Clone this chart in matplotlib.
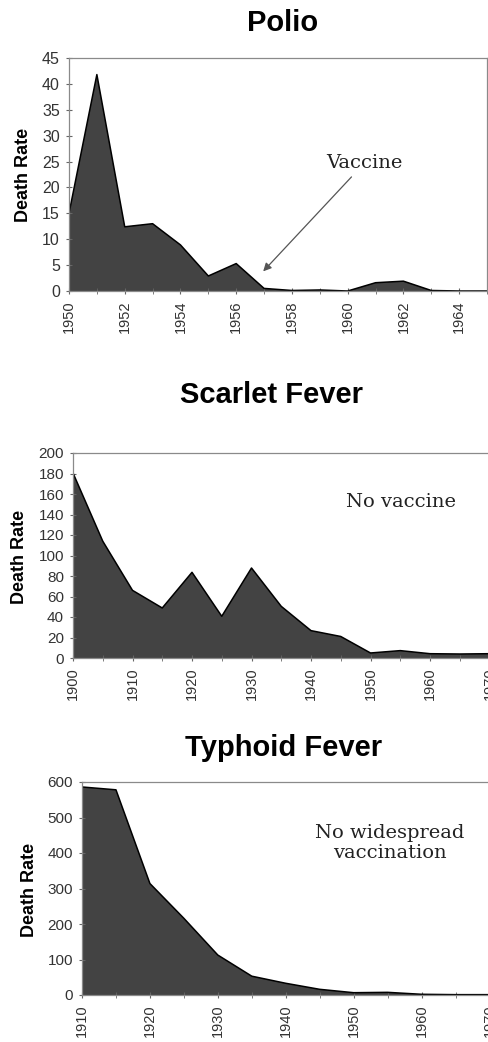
import matplotlib
matplotlib.use('Agg')
import matplotlib.pyplot as plt
from matplotlib.ticker import MultipleLocator

plt.rcParams['font.family'] = ['Liberation Sans', 'DejaVu Sans']

# data
polio_years = list(range(1950, 1966))
polio_rate = [15.0, 41.8, 12.4, 13.0, 8.9, 2.9, 5.3, 0.5, 0.1, 0.2, 0.0, 1.6, 1.9, 0.1, 0.0, 0.0]

scarlet_years = list(range(1900, 1971, 5))
scarlet_rate = [180.5, 114, 66, 48.8, 83.6, 40.7, 87.8, 50.4, 26.7, 21, 4.9, 7.2, 4.2, 3.9, 4.2]

typhoid_years = list(range(1910, 1971, 5))
typhoid_rate = [586, 578, 314, 216, 112.5, 53, 33, 16, 6.5, 7.5, 2, 1, 1]

FILL = '#434343'
W, H = 489, 1042


def px_axes(fig, left, top, right, bottom):
    return fig.add_axes([left / W, 1 - bottom / H, (right - left) / W, (bottom - top) / H])


def area_panel(ax, years, rate, xlim, ymax, ystep, xmaj, xmin, ysize=11):
    ax.fill_between(years, rate, 0, facecolor=FILL, edgecolor='none')
    ax.plot(years, rate, color='black', lw=1.1)
    ax.set_xlim(*xlim)
    ax.set_ylim(0, ymax)
    ax.yaxis.set_major_locator(MultipleLocator(ystep))
    ax.xaxis.set_major_locator(MultipleLocator(xmaj))
    ax.xaxis.set_minor_locator(MultipleLocator(xmin))
    for s in ax.spines.values():
        s.set_color('#8a8a8a')
        s.set_linewidth(0.9)
    ax.tick_params(axis='both', which='both', direction='inout', color='#666666',
                   labelcolor='#333333')
    ax.tick_params(axis='y', length=5, pad=4, labelsize=ysize)
    ax.tick_params(axis='x', which='both', length=5, pad=4, labelsize=10.5)
    for lab in ax.get_xticklabels():
        lab.set_rotation(90)
        lab.set_va('top')


fig = plt.figure(figsize=(W / 100, H / 100), dpi=100)

# Polio
ax1 = px_axes(fig, 69, 58, 487, 291)
area_panel(ax1, polio_years, polio_rate, (1950, 1965), 45, 5, 2, 1, ysize=11.5)
ax1.annotate('Vaccine', xy=(1956.9, 3.4), xytext=(1960.6, 24.7),
             ha='center', va='center', fontsize=14, family='DejaVu Serif', color='#222222',
             arrowprops=dict(arrowstyle='-|>', color='#555555', lw=0.9, mutation_scale=12))
fig.text(283 / W, 1 - 23 / H, 'Polio', ha='center', va='center', fontsize=21, fontweight='bold')
fig.text(24 / W, 1 - 175 / H, 'Death Rate', ha='center', va='center', rotation=90,
         fontsize=13, fontweight='bold')

# Scarlet Fever
ax2 = px_axes(fig, 73, 453, 489.5, 658)
area_panel(ax2, scarlet_years, scarlet_rate, (1900, 1970), 200, 20, 10, 5)
ax2.text(1955.1, 152, 'No vaccine', ha='center', va='center', fontsize=14,
         family='DejaVu Serif', color='#222222')
fig.text(272 / W, 1 - 395 / H, 'Scarlet Fever', ha='center', va='center', fontsize=21, fontweight='bold')
fig.text(20 / W, 1 - 557 / H, 'Death Rate', ha='center', va='center', rotation=90,
         fontsize=13, fontweight='bold')

# Typhoid Fever
ax3 = px_axes(fig, 82, 782, 489.5, 995)
area_panel(ax3, typhoid_years, typhoid_rate, (1910, 1970), 600, 100, 10, 5)
ax3.text(1955.3, 428, 'No widespread\nvaccination', ha='center', va='center', fontsize=14,
         family='DejaVu Serif', color='#222222', linespacing=1.15)
fig.text(284 / W, 1 - 748 / H, 'Typhoid Fever', ha='center', va='center', fontsize=21, fontweight='bold')
fig.text(30 / W, 1 - 890 / H, 'Death Rate', ha='center', va='center', rotation=90,
         fontsize=13, fontweight='bold')

fig.savefig('out.png', dpi=100)
